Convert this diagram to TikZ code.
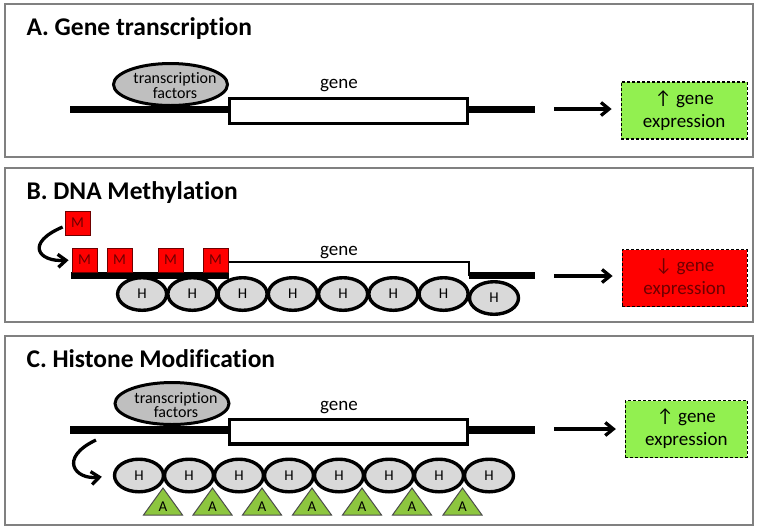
\documentclass[tikz,border=0pt]{standalone}
\usepackage{fontspec}
\setmainfont{Carlito}[Ligatures=NoCommon]
\usetikzlibrary{arrows.meta,shapes.geometric}

\definecolor{tfgray}{RGB}{191,191,191}
\definecolor{hgray}{RGB}{217,217,217}
\definecolor{upgreen}{RGB}{146,240,80}
\definecolor{acgreen}{RGB}{141,198,63}
\definecolor{mred}{RGB}{255,0,0}
\definecolor{mtext}{RGB}{110,0,0}

\begin{document}
\begin{tikzpicture}[x=1pt,y=-1pt,
    panel/.style={draw=gray, line width=1.5pt},
    title/.style={anchor=base west, font=\fontsize{25.5}{30}\selectfont\bfseries},
    dna/.style={line width=7.5pt},
    genebox/.style={rectangle, draw, fill=white, line width=3.4pt, minimum width=237.6pt, minimum height=24.6pt, inner sep=0pt},
    geneline/.style={line width=2.8pt},
    genelabel/.style={anchor=base, font=\fontsize{19}{23}\selectfont},
    tf/.style={ellipse, draw, fill=tfgray, line width=3pt, minimum width=114pt, minimum height=42pt, inner sep=0pt},
    tftext/.style={anchor=base, font=\fontsize{16}{15}\selectfont},
    histone/.style={ellipse, draw, fill=hgray, line width=3.4pt, minimum width=49pt, minimum height=32.6pt, inner sep=0pt, font=\fontsize{15}{15}\selectfont},
    mbox/.style={rectangle, draw=mtext, fill=mred, line width=0.8pt, minimum width=25pt, minimum height=24pt, inner sep=0pt, text=mtext, font=\fontsize{15}{15}\selectfont},
    acetyl/.style={draw=black!70, fill=acgreen, line width=1pt},
    acetxt/.style={font=\fontsize{15}{15}\selectfont},
    expbox/.style={rectangle, draw, dash pattern=on 3pt off 2pt, line width=1.2pt, minimum height=57pt, align=center, font=\fontsize{19}{23}\selectfont},
    arr/.style={-{Straight Barb[length=8pt,width=13pt]}, line width=3.3pt}
  ]
    \useasboundingbox (0,0) rectangle (762,531);

    % panel frames and titles
    \draw[panel] (5,4) rectangle (753,157);
    \draw[panel] (5,168) rectangle (753,322);
    \draw[panel] (5,336) rectangle (753,525);
    \node[title] (tA) at (23,35) {A. Gene transcription};
    \node[title] (tB) at (23,199) {B. DNA Methylation};
    \node[title] (tC) at (23,367) {C. Histone Modification};

    % A. gene transcription
    \draw[dna] (70,109.5) -- (535,109.5);
    \node[genebox] (geneA) at (348.5,111) {};
    \node[tf] (tfA) at (170.5,84.5) {};
    \node[tftext] (tfA1) at (175,83.3) {transcription};
    \node[tftext] (tfA2) at (175,98.3) {factors};
    \node[genelabel] (gA) at (339,88) {gene};
    \coordinate (arA) at (554,109);
    \node[expbox, fill=upgreen, minimum width=126pt] (expA) at (684.2,110.5) {↑ gene\\expression};
    \draw[arr, shorten >=9pt] (arA) -- (arA -| expA.west);

    % B. DNA methylation
    \draw[dna] (71,275.5) -- (229,275.5);
    \draw[dna] (469,275.5) -- (535,275.5);
    \draw[geneline] (229,262) -- (469,262) -- (469,276);
    \node[genelabel] (gB) at (339,255) {gene};
    \node[mbox] (M0) at (77.5,223) {M};
    \node[mbox] (M1) at (84.5,260) {M};
    \node[mbox] (M2) at (119.5,260) {M};
    \node[mbox] (M3) at (170.5,260) {M};
    \node[mbox] (M4) at (215.5,260) {M};
    \foreach \i in {1,...,7}
      \node[histone] (hB\i) at ({142.1+50.25*(\i-1)},294) {H};
    \node[histone] (hB8) at (494,298) {H};
    \draw[arr, shorten >=3pt] ([shift={(-2,4)}]M0.west) .. controls (25,243) and (38,262) .. (M1.west);
    \coordinate (arB) at (554,276);
    \node[expbox, fill=mred, text=mtext, minimum width=125pt] (expB) at (684.7,278) {↓ gene\\expression};
    \draw[arr, shorten >=9pt] (arB) -- (arB -| expB.west);

    % C. histone modification
    \draw[dna] (70,430) -- (535,430);
    \node[genebox] (geneC) at (348.5,431.5) {};
    \node[tf] (tfC) at (172,403.5) {};
    \node[tftext] (tfC1) at (176,403) {transcription};
    \node[tftext] (tfC2) at (176,417.5) {factors};
    \node[genelabel] (gC) at (339,410.7) {gene};
    \foreach \i in {1,...,8}
      \node[histone] (hC\i) at ({139+50*(\i-1)},475.5) {H};
    \foreach \x [count=\i] in {163,212.5,262,312,362,412,462.5} {
      \draw[acetyl] ({\x-19.5},515) -- (\x,488) -- ({\x+19.5},515) -- cycle;
      \node[acetxt] (aC\i) at (\x,506.5) {A};
    }
    \coordinate (cs) at (96,440);
    \draw[arr, shorten >=11pt] (cs) .. controls (58,458) and (75,480) .. (hC1.west);
    \coordinate (arC) at (554,429);
    \node[expbox, fill=upgreen, minimum width=121.7pt] (expC) at (686.3,429) {↑ gene\\expression};
    \draw[arr, shorten >=9pt] (arC) -- (arC -| expC.west);
  \end{tikzpicture}
\end{document}
